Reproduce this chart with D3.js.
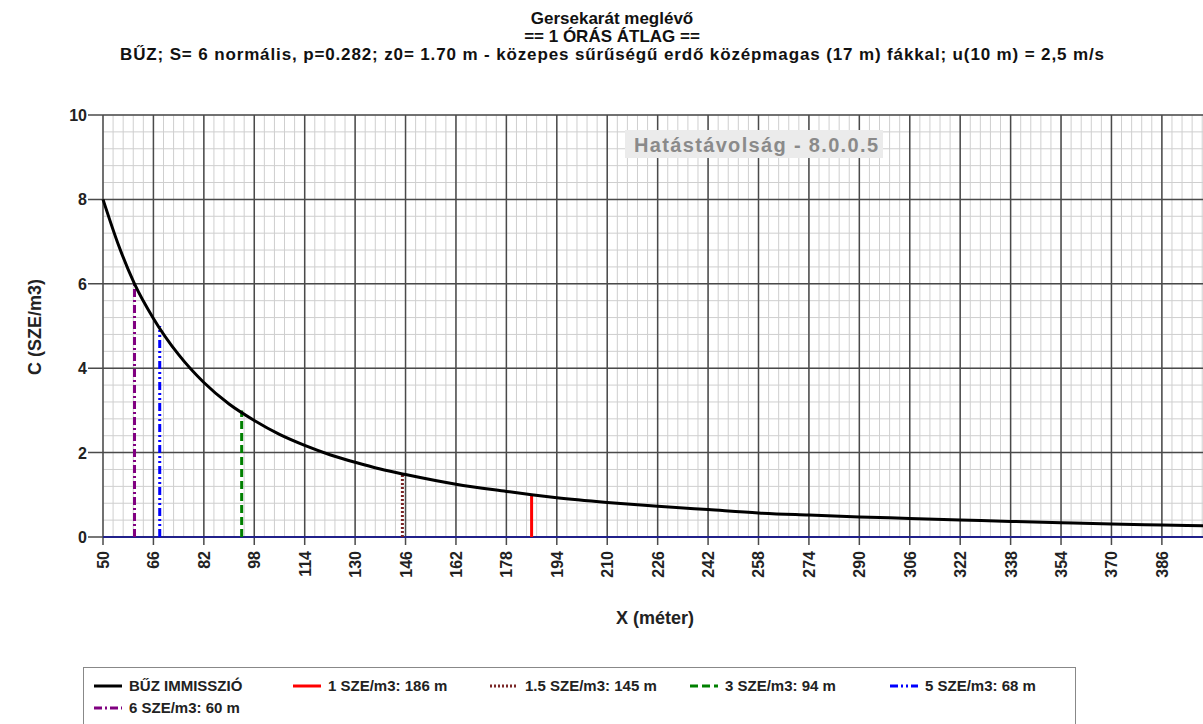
<!DOCTYPE html>
<html>
<head>
<meta charset="utf-8">
<script src="https://cdn.jsdelivr.net/npm/d3@7"></script>
<style>
body { margin: 0; background: #fff; }
svg { font-family: "Liberation Sans", Arial, sans-serif; }
.tick-label { font-weight: bold; font-size: 16px; fill: #222; }
.axis-title { font-weight: bold; font-size: 18px; fill: #222; }
.title { font-weight: bold; font-size: 17px; fill: #111; }
.legend-text { font-weight: bold; font-size: 15px; fill: #222; }
</style>
</head>
<body>
<script>
// chart data
const distX = [50, 55, 60, 66, 74, 82, 90, 98, 106, 114, 122, 130, 138, 146, 162, 178, 186, 194,
	210, 226, 242, 258, 274, 290, 306, 322, 338, 354, 370, 386, 400];
const concC = [8.0, 6.9, 6.0, 5.18, 4.32, 3.66, 3.15, 2.76, 2.43, 2.17, 1.95, 1.77, 1.61, 1.48, 1.25, 1.08, 1.0, 0.93,
	0.82, 0.73, 0.65, 0.57, 0.52, 0.475, 0.44, 0.405, 0.37, 0.34, 0.31, 0.285, 0.265];

const thrValues = [1, 1.5, 3, 5, 6];
const thrDist = [186, 145, 94, 68, 60];
const thrLabels = ['1 SZE/m3: 186 m', '1.5 SZE/m3: 145 m', '3 SZE/m3: 94 m', '5 SZE/m3: 68 m', '6 SZE/m3: 60 m'];

const xTickValues = [50, 66, 82, 98, 114, 130, 146, 162, 178, 194, 210, 226, 242, 258, 274, 290, 306, 322, 338, 354, 370, 386];
const yTickValues = [0, 2, 4, 6, 8, 10];

const titleLines = [
	'Gersekarát meglévő',
	'== 1 ÓRÁS ÁTLAG ==',
	'BŰZ; S= 6 normális, p=0.282; z0= 1.70 m - közepes sűrűségű erdő középmagas (17 m) fákkal; u(10 m) = 2,5 m/s'
];

// styles
const thrStyles = [
	{ color: '#ff0000', dash: null },
	{ color: '#7a2626', dash: '2,2' },
	{ color: '#008000', dash: '8,4' },
	{ color: '#0000ff', dash: '8,3,2,3,2,3' },
	{ color: '#800080', dash: '8,3,2,3' }
];

const svgW = 1203;
const svgH = 724;
const pl = 103, pr = 1206, pt = 115, pb = 537;

const x = d3.scaleLinear().domain([50, 400]).range([pl, pr]);
const y = d3.scaleLinear().domain([0, 10]).range([pb, pt]);

const svg = d3.select('body').append('svg').attr('width', svgW).attr('height', svgH);

/*
	titles
*/
titleLines.forEach((t, i) => {
	const tt = svg.append('text').attr('class', 'title')
		.attr('x', 612).attr('y', 24 + i * 18)
		.attr('text-anchor', 'middle').text(t);
	if (i === 2) tt.attr('textLength', 984).attr('lengthAdjust', 'spacing');
});

/*
	grid
*/
const grid = svg.append('g');
const minorX = d3.range(0, 110).map((i) => 50 + i * 3.2).filter((v) => v <= 400);
const minorY = d3.range(0, 26).map((i) => i * 0.4);

grid.selectAll('.vminor').data(minorX).join('line')
	.attr('x1', (d) => x(d)).attr('x2', (d) => x(d))
	.attr('y1', pt).attr('y2', pb)
	.attr('stroke', '#cfcfcf').attr('stroke-width', 1);
grid.selectAll('.hminor').data(minorY).join('line')
	.attr('x1', pl).attr('x2', pr)
	.attr('y1', (d) => y(d)).attr('y2', (d) => y(d))
	.attr('stroke', '#cfcfcf').attr('stroke-width', 1);

grid.selectAll('.vmajor').data(xTickValues).join('line')
	.attr('x1', (d) => x(d)).attr('x2', (d) => x(d))
	.attr('y1', pt).attr('y2', pb + 8)
	.attr('stroke', '#4a4a4a').attr('stroke-width', 1.5);
grid.selectAll('.hmajor').data(yTickValues).join('line')
	.attr('x1', pl - 15).attr('x2', pr)
	.attr('y1', (d) => y(d)).attr('y2', (d) => y(d))
	.attr('stroke', '#4a4a4a').attr('stroke-width', 1.5);

// baseline
svg.append('line')
	.attr('x1', pl).attr('x2', pr).attr('y1', y(0)).attr('y2', y(0))
	.attr('stroke', '#20208a').attr('stroke-width', 2);

/*
	watermark
*/
svg.append('rect').attr('x', 625).attr('y', 130).attr('width', 258).attr('height', 28).attr('fill', '#ebebeb');
svg.append('text')
	.attr('x', 634).attr('y', 152)
	.attr('font-size', 20).attr('font-weight', 'bold').attr('fill', '#8a8a8a')
	.attr('textLength', 244).attr('lengthAdjust', 'spacing')
	.text('Hatástávolság - 8.0.0.5');

/*
	axis labels
*/
svg.selectAll('.ylab').data(yTickValues).join('text')
	.attr('class', 'tick-label')
	.attr('x', 87).attr('y', (d) => y(d) + 6)
	.attr('text-anchor', 'end').text((d) => d);

svg.selectAll('.xlab').data(xTickValues).join('text')
	.attr('class', 'tick-label')
	.attr('transform', (d) => 'translate(' + (x(d) + 6) + ',' + 551 + ') rotate(-90)')
	.attr('text-anchor', 'end').text((d) => d);

svg.append('text').attr('class', 'axis-title')
	.attr('transform', 'translate(41,327) rotate(-90)')
	.attr('text-anchor', 'middle').text('C (SZE/m3)');
svg.append('text').attr('class', 'axis-title')
	.attr('x', 655).attr('y', 624).attr('text-anchor', 'middle')
	.text('X (méter)');

/*
	threshold lines
*/
thrValues.forEach((v, i) => {
	svg.append('line')
		.attr('x1', x(thrDist[i])).attr('x2', x(thrDist[i]))
		.attr('y1', y(0)).attr('y2', y(v))
		.attr('stroke', thrStyles[i].color).attr('stroke-width', 3)
		.attr('stroke-dasharray', thrStyles[i].dash);
});

/*
	curve
*/
const line = d3.line().x((d) => x(d[0])).y((d) => y(d[1])).curve(d3.curveMonotoneX);
svg.append('path')
	.datum(distX.map((d, i) => [ d, concC[i] ]))
	.attr('d', line)
	.attr('fill', 'none').attr('stroke', '#000').attr('stroke-width', 3);

/*
	legend
*/
svg.append('rect').attr('x', 83.5).attr('y', 667.5).attr('width', 992).attr('height', 70)
	.attr('fill', '#fff').attr('stroke', '#888').attr('stroke-width', 1);

const legendItems = [ { label: 'BŰZ IMMISSZIÓ', color: '#000', dash: null } ].concat(
	thrLabels.map((l, i) => ({ label: l, color: thrStyles[i].color, dash: thrStyles[i].dash }))
);
const legendPos = [ [ 94, 686 ], [ 293, 686 ], [ 490, 686 ], [ 690, 686 ], [ 890, 686 ], [ 94, 708 ] ];

legendItems.forEach((it, i) => {
	const [ lx, ly ] = legendPos[i];
	svg.append('line')
		.attr('x1', lx).attr('x2', lx + 28).attr('y1', ly).attr('y2', ly)
		.attr('stroke', it.color).attr('stroke-width', 3)
		.attr('stroke-dasharray', it.dash);
	svg.append('text').attr('class', 'legend-text')
		.attr('x', lx + 35).attr('y', ly + 5).text(it.label);
});
</script>
</body>
</html>
